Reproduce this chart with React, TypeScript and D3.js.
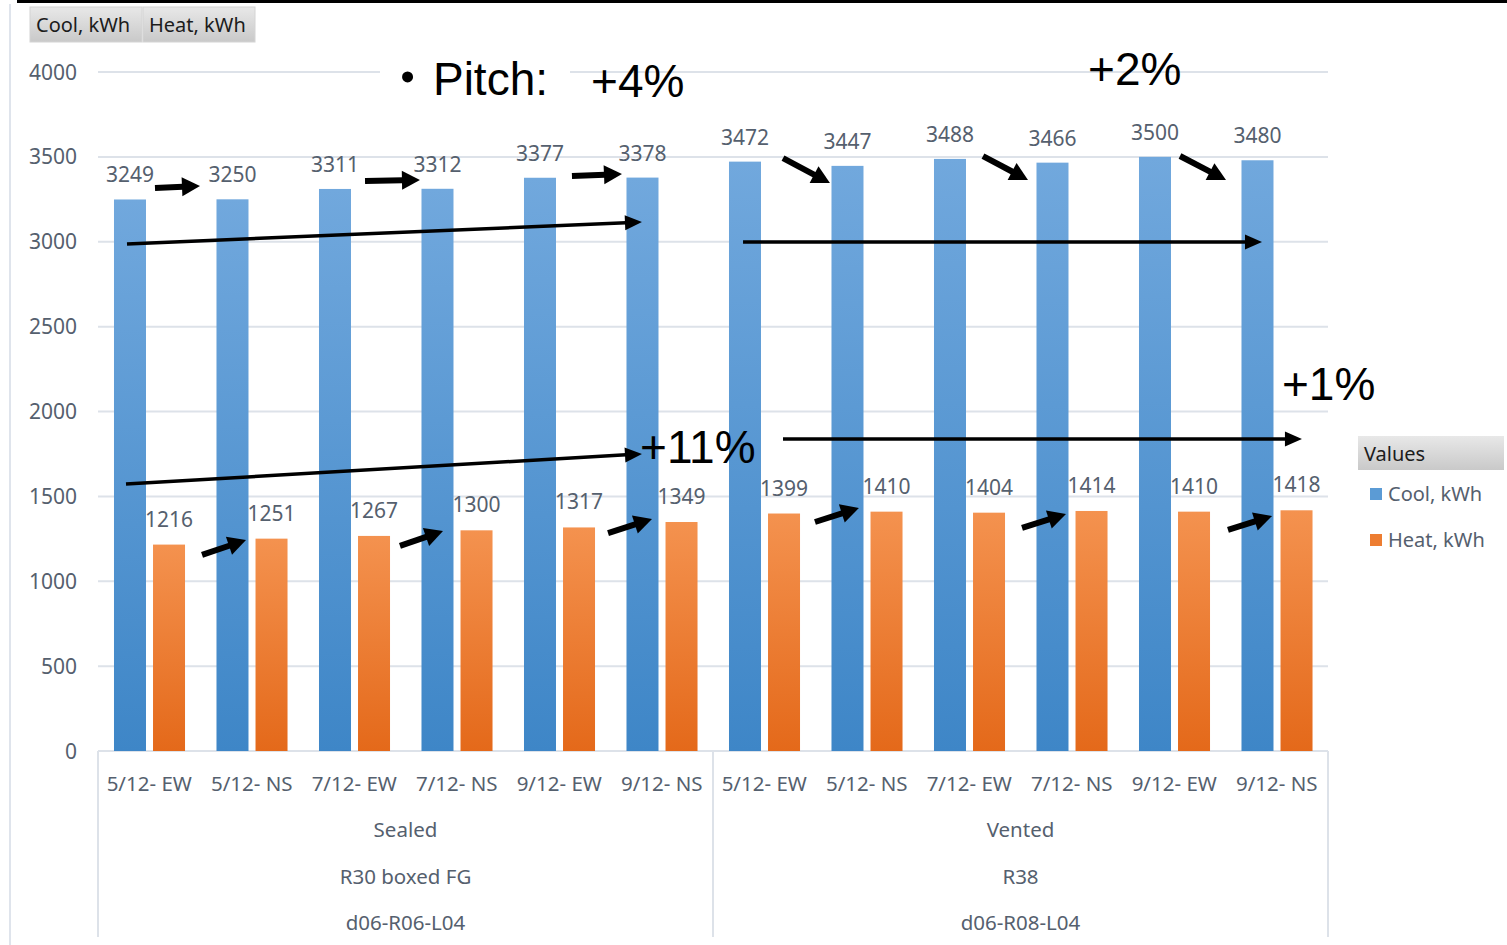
import React from 'react';
import * as d3 from 'd3';

// ---- data ----
const categoryLabels = ['5/12- EW', '5/12- NS', '7/12- EW', '7/12- NS', '9/12- EW', '9/12- NS',
  '5/12- EW', '5/12- NS', '7/12- EW', '7/12- NS', '9/12- EW', '9/12- NS'];
const coolValues = [3249, 3250, 3311, 3312, 3377, 3378, 3472, 3447, 3488, 3466, 3500, 3480];
const heatValues = [1216, 1251, 1267, 1300, 1317, 1349, 1399, 1410, 1404, 1414, 1410, 1418];
const groupLevel1 = ['Sealed', 'Vented'];
const groupLevel2 = ['R30 boxed FG', 'R38'];
const groupLevel3 = ['d06-R06-L04', 'd06-R08-L04'];
const yTicks = [0, 500, 1000, 1500, 2000, 2500, 3000, 3500, 4000];
const seriesNames = ['Cool, kWh', 'Heat, kWh'];

// annotations: [category position (0..12), value] pairs
const shortArrowsCool = [
  [0.556, 3317, 0.995, 3328], [2.605, 3358, 3.141, 3364], [4.624, 3387, 5.112, 3399],
  [6.683, 3493, 7.141, 3346], [8.634, 3505, 9.073, 3364], [10.556, 3505, 11.005, 3364],
];
const shortArrowsHeat = [
  [1.015, 1155, 1.444, 1243], [2.946, 1208, 3.366, 1296], [4.976, 1284, 5.405, 1367],
  [6.995, 1349, 7.424, 1432], [9.015, 1314, 9.444, 1396], [11.024, 1302, 11.454, 1384],
];
const trendArrows = [
  [0.283, 2987, 5.307, 3116], [6.293, 2999, 11.356, 2999],
  [0.273, 1573, 5.307, 1750], [6.683, 1838, 11.746, 1838],
];
const percentTexts = [
  { text: '+4%', u: 4.81, v: 3853 },
  { text: '+2%', u: 9.659, v: 3923 },
  { text: '+11%', u: 5.288, v: 1697 },
  { text: '+1%', u: 11.551, v: 2068 },
];

const W = 1507, H = 945;
const plotLeft = 98, plotRight = 1328, plotTop = 72, plotBottom = 751;
const FONT = '"Noto Sans", "Liberation Sans", sans-serif';
const AFONT = '"Liberation Sans", Arial, sans-serif';
const textColor = '#55606e';
const gridColor = '#dde2e9';

function Arrow({ x1, y1, x2, y2, w, hl, hw }) {
  const dx = x2 - x1, dy = y2 - y1;
  const L = Math.hypot(dx, dy);
  const ux = dx / L, uy = dy / L;
  const bx = x2 - ux * hl, by = y2 - uy * hl;
  const px = -uy, py = ux;
  return (
    <g>
      <line x1={x1} y1={y1} x2={bx + ux * 1} y2={by + uy * 1} stroke="#000" strokeWidth={w} />
      <polygon
        points={`${x2},${y2} ${bx + px * hw / 2},${by + py * hw / 2} ${bx - px * hw / 2},${by - py * hw / 2}`}
        fill="#000"
      />
    </g>
  );
}

export default function App() {
  const idx = categoryLabels.map((_, i) => String(i));
  const x0 = d3.scaleBand().domain(idx).range([plotLeft, plotRight]).padding(0);
  const bw = x0.bandwidth();
  const x1 = d3.scaleBand().domain(seriesNames).range([bw * 0.156, bw * 0.849]).paddingInner(0.18);
  const y = d3.scaleLinear().domain([0, 4000]).range([plotBottom, plotTop]);
  const u = d3.scaleLinear().domain([0, 12]).range([plotLeft, plotRight]);

  const series = [
    { name: seriesNames[0], values: coolValues, grad: 'url(#coolGrad)', off: 17 },
    { name: seriesNames[1], values: heatValues, grad: 'url(#heatGrad)', off: 18 },
  ];

  const groupCount = groupLevel1.length;
  const perGroup = categoryLabels.length / groupCount;

  return (
    <svg width={W} height={H} style={{ position: 'absolute', left: 0, top: 0, background: '#fff' }}>
      <defs>
        <linearGradient id="coolGrad" x1="0" y1="0" x2="0" y2="1">
          <stop offset="0" stopColor="#71a8dd" />
          <stop offset="1" stopColor="#3e86c7" />
        </linearGradient>
        <linearGradient id="heatGrad" x1="0" y1="0" x2="0" y2="1">
          <stop offset="0" stopColor="#f4924f" />
          <stop offset="1" stopColor="#e4691a" />
        </linearGradient>
        <linearGradient id="btnGrad" x1="0" y1="0" x2="0" y2="1">
          <stop offset="0" stopColor="#e8e8e8" />
          <stop offset="1" stopColor="#c9c9c9" />
        </linearGradient>
      </defs>

      {/* frame lines */}
      <rect x={17} y={0} width={W - 17} height={3} fill="#000" />
      <line x1={10} y1={4} x2={10} y2={H} stroke="#dfe4ec" strokeWidth={2} />

      {/* gridlines */}
      {yTicks.map(t => (
        <line key={t} x1={plotLeft} x2={plotRight} y1={y(t)} y2={y(t)} stroke={gridColor} strokeWidth={2} />
      ))}
      {yTicks.map(t => (
        <text key={'l' + t} x={77} y={y(t)} dy="0.36em" textAnchor="end" fontFamily={FONT} fontSize={21} fill={textColor}>{t}</text>
      ))}

      {/* group divider lines */}
      {d3.range(groupCount + 1).map(g => (
        <line key={'d' + g} x1={u(g * perGroup)} x2={u(g * perGroup)} y1={plotBottom} y2={937} stroke={gridColor} strokeWidth={2} />
      ))}

      {/* bars */}
      {series.map(s => (
        <g key={s.name}>
          {s.values.map((v, i) => (
            <rect key={i} x={x0(String(i)) + x1(s.name)} y={y(v)} width={x1.bandwidth()} height={y(0) - y(v)} fill={s.grad} />
          ))}
        </g>
      ))}

      {/* value labels */}
      {series.map(s => (
        <g key={'v' + s.name}>
          {s.values.map((v, i) => (
            <text key={i} x={x0(String(i)) + x1(s.name) + x1.bandwidth() / 2} y={y(v) - s.off} textAnchor="middle" fontFamily={FONT} fontSize={21} fill={textColor}>{v}</text>
          ))}
        </g>
      ))}

      {/* category labels */}
      {categoryLabels.map((c, i) => (
        <text key={'c' + i} x={x0(String(i)) + bw / 2} y={791} textAnchor="middle" fontFamily={FONT} fontSize={20.5} fill={textColor}>{c}</text>
      ))}
      {[groupLevel1, groupLevel2, groupLevel3].map((lvl, li) => (
        lvl.map((g, gi) => (
          <text key={'g' + li + gi} x={u((gi + 0.5) * perGroup)} y={837 + li * 46.5} textAnchor="middle" fontFamily={FONT} fontSize={20.5} fill={textColor}>{g}</text>
        ))
      ))}

      {/* top-left field buttons */}
      {seriesNames.map((n, i) => (
        <g key={'b' + n}>
          <rect x={30 + i * 113} y={7} width={112} height={35} fill="url(#btnGrad)" stroke="#d4d4d4" strokeWidth={1} />
          <text x={36 + i * 113} y={32} fontFamily={FONT} fontSize={20} fill="#1c1c1c">{n}</text>
        </g>
      ))}

      {/* right legend */}
      <rect x={1358} y={436} width={146} height={34} fill="url(#btnGrad)" />
      <text x={1364} y={461} fontFamily={FONT} fontSize={20} fill="#1c1c1c">Values</text>
      {seriesNames.map((n, i) => (
        <g key={'lg' + n}>
          <rect x={1370} y={488 + i * 46} width={12} height={12} fill={i === 0 ? '#5b9bd5' : '#ed7d31'} />
          <text x={1388} y={501 + i * 46} fontFamily={FONT} fontSize={20} fill={textColor}>{n}</text>
        </g>
      ))}

      {/* Pitch title */}
      <rect x={u(2.751)} y={y(4000) - 14} width={u(4.605) - u(2.751)} height={28} fill="#fff" />
      <circle cx={u(3.02)} cy={y(3971)} r={5.5} fill="#000" />
      <text x={u(3.268)} y={y(3865)} fontFamily={AFONT} fontSize={46} fill="#000">Pitch:</text>

      {percentTexts.map(p => (
        <text key={p.text} x={u(p.u)} y={y(p.v)} fontFamily={AFONT} fontSize={46} fill="#000">{p.text}</text>
      ))}

      {/* arrows */}
      {[...shortArrowsCool, ...shortArrowsHeat].map((a, i) => (
        <Arrow key={'s' + i} x1={u(a[0])} y1={y(a[1])} x2={u(a[2])} y2={y(a[3])} w={6} hl={18} hw={19} />
      ))}
      {trendArrows.map((a, i) => (
        <Arrow key={'t' + i} x1={u(a[0])} y1={y(a[1])} x2={u(a[2])} y2={y(a[3])} w={3.5} hl={17} hw={15} />
      ))}
    </svg>
  );
}
